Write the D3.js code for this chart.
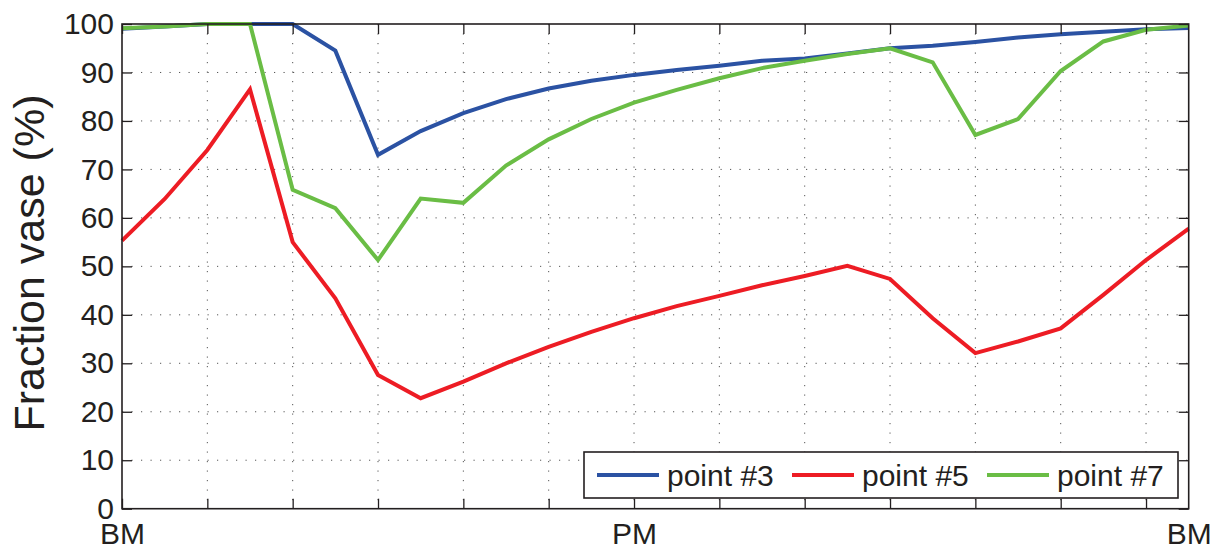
<!DOCTYPE html>
<html>
<head>
<meta charset="utf-8">
<script src="https://cdn.jsdelivr.net/npm/d3@7"></script>
<style>
  html, body { margin: 0; padding: 0; background: #fff; }
  svg { display: block; font-family: "Liberation Sans", Arial, Helvetica, sans-serif; }
</style>
</head>
<body>
<svg id="chart" width="1219" height="549"></svg>
<script>
// ---- data ----
const hours = [0,1,2,3,4,5,6,7,8,9,10,11,12,13,14,15,16,17,18,19,20,21,22,23,24,25];
const point3 = [99.0,99.5,100,100,100,94.5,73.0,77.9,81.6,84.5,86.7,88.3,89.5,90.5,91.4,92.4,92.9,93.9,95.0,95.5,96.3,97.2,97.9,98.4,98.9,99.2];
const point5 = [55.3,63.9,74.0,86.5,55.0,43.4,27.6,22.8,26.2,30.0,33.4,36.5,39.3,41.8,43.9,46.1,48.0,50.1,47.4,39.3,32.1,34.5,37.2,44.1,51.3,57.8];
const point7 = [99.1,99.5,100,100,65.8,62.0,51.3,64.0,63.1,70.8,76.2,80.4,83.8,86.4,88.8,90.9,92.4,93.8,95.0,92.1,77.1,80.4,90.3,96.4,98.8,99.7];
const seriesNames = ["point #3","point #5","point #7"];
const seriesColors = ["#2b52a3","#ed1c24","#6abd45"];
const xGridTicks = [0,2,4,6,8,10,12,14,16,18,20,22,24];
const xLabelTicks = [0,12,25];
const xLabelText = ["BM","PM","BM"];
const yTicks = [0,10,20,30,40,50,60,70,80,90,100];
const yLabel = "Fraction vase (%)";

// ---- layout ----
const svg = d3.select("#chart");
const L = 122, R = 1188.7, T = 24, B = 508.7;
const x = d3.scaleLinear().domain([0,25]).range([L,R]);
const y = d3.scaleLinear().domain([0,100]).range([B,T]);
const ink = "#231f20";

// grid
const grid = svg.append("g");
grid.selectAll("line.v").data(xGridTicks.filter(d => d > 0)).join("line")
  .attr("x1", d => x(d)).attr("x2", d => x(d)).attr("y1", T).attr("y2", B)
  .attr("stroke", "#555").attr("stroke-width", 1).attr("stroke-dasharray", "1.2,8.3");
grid.selectAll("line.h").data(yTicks.filter(d => d > 0 && d < 100)).join("line")
  .attr("y1", d => y(d)).attr("y2", d => y(d)).attr("x1", L).attr("x2", R)
  .attr("stroke", "#555").attr("stroke-width", 1).attr("stroke-dasharray", "1.2,8.3");

// lines
const series = [point3, point5, point7];
const line = d3.line().x((d,i) => x(hours[i])).y(d => y(d));
svg.append("g").selectAll("path").data(series).join("path")
  .attr("d", d => line(d)).attr("fill", "none")
  .attr("stroke", (d,i) => seriesColors[i]).attr("stroke-width", 4)
  .attr("stroke-linejoin", "miter").attr("stroke-linecap", "butt");

// axes
const fontSize = 30;
const ax = svg.append("g");
// bottom ticks (inward)
ax.append("g").attr("transform", `translate(0,${B})`)
  .call(d3.axisBottom(x).tickValues(xGridTicks).tickSize(-10).tickFormat(""))
  .call(g => g.select(".domain").remove());
// top ticks
ax.append("g").attr("transform", `translate(0,${T})`)
  .call(d3.axisTop(x).tickValues(xGridTicks).tickSize(-10).tickFormat(""))
  .call(g => g.select(".domain").remove());
// bottom labels
ax.append("g").attr("transform", `translate(0,${B})`)
  .call(d3.axisBottom(x).tickValues(xLabelTicks).tickSize(0).tickPadding(14)
        .tickFormat((d,i) => xLabelText[i]))
  .call(g => g.select(".domain").remove());
// left axis
ax.append("g").attr("transform", `translate(${L},0)`)
  .call(d3.axisLeft(y).tickValues(yTicks).tickSize(-10).tickPadding(8))
  .call(g => g.select(".domain").remove());
// right ticks
ax.append("g").attr("transform", `translate(${R},0)`)
  .call(d3.axisRight(y).tickValues(yTicks).tickSize(-10).tickFormat(""))
  .call(g => g.select(".domain").remove());
ax.selectAll(".tick line").attr("stroke", ink).attr("stroke-width", 1.3);
ax.selectAll(".tick text").attr("fill", ink).style("font-size", fontSize + "px")
  .style("font-family", '"Liberation Sans", Arial, Helvetica, sans-serif');

// frame
svg.append("rect").attr("x", L).attr("y", T).attr("width", R - L).attr("height", B - T)
  .attr("fill", "none").attr("stroke", ink).attr("stroke-width", 1.6);

// y label
svg.append("text").attr("transform", `translate(44,263) rotate(-90)`)
  .attr("text-anchor", "middle").attr("fill", ink).style("font-size", "43px")
  .text(yLabel);

// legend
const lg = svg.append("g");
lg.append("rect").attr("x", 584).attr("y", 452).attr("width", 594).attr("height", 46)
  .attr("fill", "#fff").attr("stroke", ink).attr("stroke-width", 1.6);
const legX = [597, 792, 987];
seriesNames.forEach((name, i) => {
  lg.append("line").attr("x1", legX[i]).attr("x2", legX[i] + 62)
    .attr("y1", 475).attr("y2", 475)
    .attr("stroke", seriesColors[i]).attr("stroke-width", 4);
  lg.append("text").attr("x", legX[i] + 70).attr("y", 485.5)
    .attr("fill", ink).style("font-size", "30px").text(name);
});
</script>
</body>
</html>
